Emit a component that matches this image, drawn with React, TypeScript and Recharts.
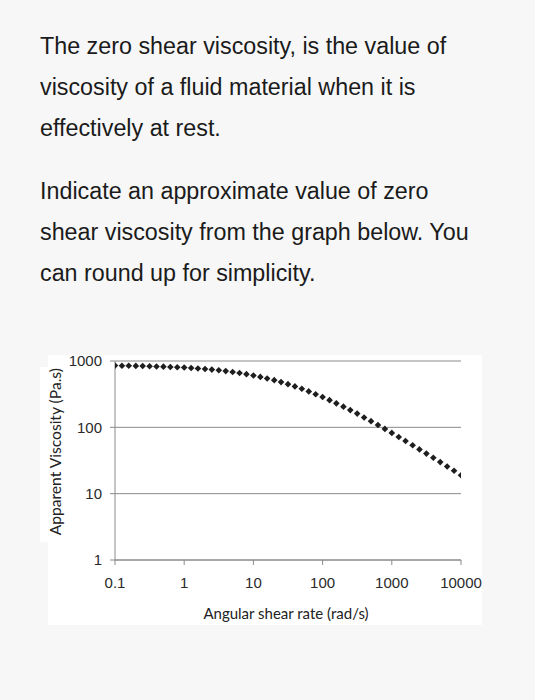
import React from "react";
import { ScatterChart, Scatter, XAxis, YAxis, CartesianGrid, Label } from "recharts";

const paragraph1 = [
  "The zero shear viscosity, is the value of",
  "viscosity of a fluid material when it is",
  "effectively at rest.",
];
const paragraph2 = [
  "Indicate an approximate value of zero",
  "shear viscosity from the graph below. You",
  "can round up for simplicity.",
];

const shearRate = [
  0.1, 0.126, 0.158, 0.2, 0.251, 0.316, 0.398, 0.501, 0.631, 0.794,
  1, 1.26, 1.58, 2, 2.51, 3.16, 3.98, 5.01, 6.31, 7.94,
  10, 12.6, 15.8, 20, 25.1, 31.6, 39.8, 50.1, 63.1, 79.4,
  100, 126, 158, 200, 251, 316, 398, 501, 631, 794,
  1000, 1260, 1580, 2000, 2510, 3160, 3980, 5010, 6310, 7940,
  10000,
];
const viscosity = [
  853, 850, 847, 843, 839, 834, 828, 822, 814, 806,
  796, 785, 772, 758, 742, 724, 704, 683, 659, 633,
  606, 576, 546, 514, 481, 448, 414, 381, 348, 316,
  286, 257, 230, 205, 182, 161, 141, 124, 108.5, 94.7,
  82.4, 71.6, 62.1, 53.8, 46.5, 40.2, 34.7, 29.9, 25.7, 22.1,
  19.0,
];
const xTicks = [0.1, 1, 10, 100, 1000, 10000];
const yTicks = [1, 10, 100, 1000];
const xTitle = "Angular shear rate (rad/s)";
const yTitle = "Apparent Viscosity (Pa.s)";

const data = shearRate.map((x, i) => ({ x, y: viscosity[i] }));

const AXIS = "#8a8a8a";
const TICK_FONT = { fill: "#2a2a2a", fontSize: 15, fontFamily: "'Liberation Sans', Arial, sans-serif" };
const TITLE_FONT = "Lato, 'Open Sans', sans-serif";

const Diamond = (props: any) => {
  const { cx, cy } = props;
  const r = 3.3;
  return (
    <path
      d={`M${cx},${cy - r}L${cx + r},${cy}L${cx},${cy + r}L${cx - r},${cy}Z`}
      fill="#1e1e1e"
    />
  );
};

const fmt = (v: number) => String(v);

export default function App() {
  const textStyle: React.CSSProperties = {
    position: "absolute",
    left: 40,
    fontFamily: "'Liberation Sans', Arial, Helvetica, sans-serif",
    fontSize: 23.3,
    lineHeight: "41px",
    color: "#1b1b1b",
    whiteSpace: "nowrap",
    margin: 0,
  };
  return (
    <div style={{ position: "relative", width: 535, height: 700, background: "#f7f7f7", overflow: "hidden" }}>
      <style>{`body{margin:0;background:#f7f7f7}`}</style>
      <div style={{ ...textStyle, top: 26 }}>
        {paragraph1.map((l, i) => (
          <div key={i}>{l}</div>
        ))}
      </div>
      <div style={{ ...textStyle, top: 171 }}>
        {paragraph2.map((l, i) => (
          <div key={i}>{l}</div>
        ))}
      </div>
      <div style={{ position: "absolute", left: 48, top: 355, width: 434, height: 270, background: "#fff" }} />
      <div style={{ position: "absolute", left: 40, top: 367, width: 10, height: 175, background: "#fff" }} />
      <div style={{ position: "absolute", left: 30, top: 345 }}>
        <ScatterChart width={452} height={280} margin={{ top: 16, right: 21, left: 0, bottom: 0 }}>
          <CartesianGrid vertical={false} stroke={AXIS} strokeWidth={1} />
          <XAxis
            dataKey="x"
            type="number"
            scale="log"
            domain={[0.1, 10000]}
            ticks={xTicks}
            interval={0}
            allowDataOverflow
            tickFormatter={fmt}
            stroke={AXIS}
            tickSize={5}
            tickMargin={12}
            tick={TICK_FONT}
            height={65}
          >
            <Label
              content={(p: any) => {
                const vb = p.viewBox || {};
                return (
                  <text
                    x={vb.x + vb.width / 2 - 2}
                    y={vb.y + 52.7}
                    textAnchor="middle"
                    dominantBaseline="central"
                    fill="#222"
                    fontSize={15}
                    fontFamily={TITLE_FONT}
                  >
                    {xTitle}
                  </text>
                );
              }}
            />
          </XAxis>
          <YAxis
            dataKey="y"
            type="number"
            scale="log"
            domain={[1, 1000]}
            ticks={yTicks}
            interval={0}
            allowDataOverflow
            tickFormatter={fmt}
            stroke={AXIS}
            tickSize={5}
            tickMargin={8}
            tick={TICK_FONT}
            width={85}
          >
            <Label
              content={(p: any) => {
                const vb = p.viewBox || {};
                const cx = vb.x + 25;
                const cy = vb.y + vb.height / 2 - 8.8;
                return (
                  <text
                    x={cx}
                    y={cy}
                    transform={`rotate(-90 ${cx} ${cy})`}
                    textAnchor="middle"
                    dominantBaseline="central"
                    fill="#222"
                    fontSize={15.6}
                    fontFamily={TITLE_FONT}
                  >
                    {yTitle}
                  </text>
                );
              }}
            />
          </YAxis>
          <Scatter data={data} shape={Diamond} isAnimationActive={false} />
        </ScatterChart>
      </div>
    </div>
  );
}
